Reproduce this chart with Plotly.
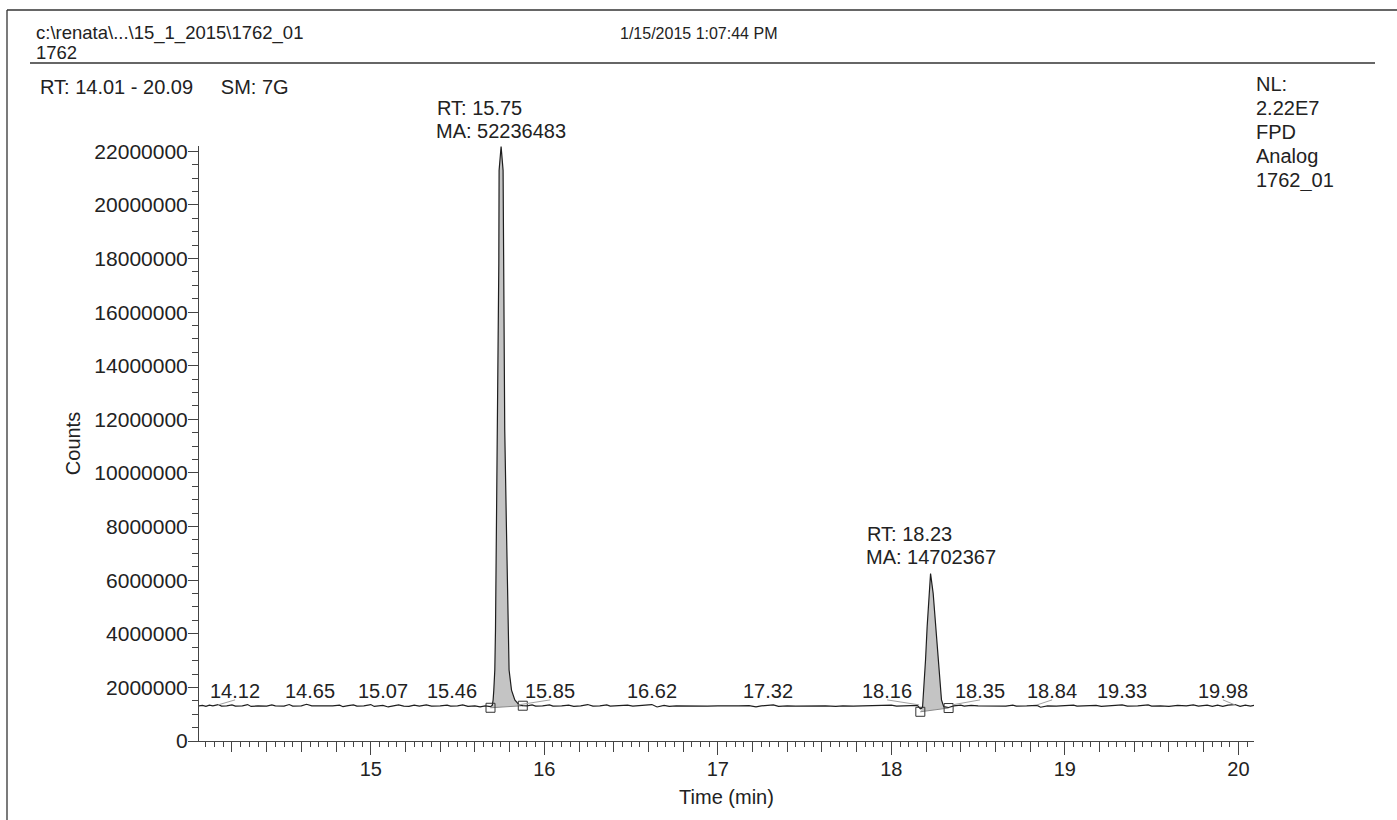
import plotly.graph_objects as go

# ---------------- data ----------------
time_min = [
    14.01, 14.03, 14.05, 14.07, 14.09, 14.12, 14.14, 14.17, 14.20, 14.22,
    14.26, 14.29, 14.31, 14.35, 14.40, 14.43, 14.45, 14.50, 14.53, 14.55,
    14.60, 14.63, 14.66, 14.72, 14.78, 14.82, 14.84, 14.87, 14.90, 14.92,
    14.96, 15.00, 15.02, 15.07, 15.10, 15.13, 15.16, 15.19, 15.22, 15.25,
    15.28, 15.32, 15.35, 15.40, 15.44, 15.46, 15.50, 15.53, 15.56, 15.60,
    15.63, 15.66, 15.690,
    15.700, 15.705, 15.709, 15.7147, 15.7187, 15.7245, 15.730, 15.7337, 15.7378, 15.7395,
    15.751, 15.7625, 15.765, 15.769, 15.772, 15.782, 15.7914, 15.797, 15.811, 15.830,
    15.853, 15.875,
    15.90, 15.93, 15.95, 15.99, 16.03, 16.05, 16.10, 16.14, 16.17, 16.21,
    16.25, 16.28, 16.32, 16.36, 16.38, 16.43, 16.48, 16.51, 16.55, 16.60,
    16.62, 16.65, 16.69, 16.72, 16.76, 16.82, 16.88, 16.94, 17.00, 17.06,
    17.12, 17.18, 17.22, 17.25, 17.30, 17.32, 17.35, 17.40, 17.45, 17.50,
    17.56, 17.62, 17.68, 17.72, 17.78, 17.84, 17.90, 17.96, 18.00, 18.03,
    18.08, 18.12, 18.15, 18.167,
    18.175, 18.180, 18.183, 18.189, 18.197, 18.2063, 18.2161, 18.226, 18.241, 18.2565,
    18.270, 18.2836, 18.289, 18.302, 18.315, 18.33,
    18.36, 18.40, 18.42, 18.46, 18.50, 18.55, 18.60, 18.66, 18.70, 18.72,
    18.78, 18.84, 18.86, 18.90, 18.95, 19.00, 19.05, 19.07, 19.12, 19.18,
    19.21, 19.26, 19.30, 19.33, 19.36, 19.42, 19.48, 19.50, 19.55, 19.60,
    19.65, 19.70, 19.74, 19.77, 19.82, 19.85, 19.88, 19.91, 19.94, 19.98,
    20.01, 20.04, 20.07, 20.09,
]
counts_millions = [
    1.31, 1.33, 1.29, 1.34, 1.31, 1.36, 1.30, 1.31, 1.35, 1.30,
    1.31, 1.36, 1.29, 1.31, 1.30, 1.35, 1.31, 1.30, 1.36, 1.30,
    1.31, 1.37, 1.31, 1.30, 1.31, 1.34, 1.28, 1.32, 1.35, 1.30,
    1.31, 1.36, 1.29, 1.33, 1.27, 1.31, 1.35, 1.30, 1.29, 1.34,
    1.30, 1.35, 1.30, 1.31, 1.34, 1.30, 1.31, 1.35, 1.29, 1.31,
    1.27, 1.31, 1.28,
    1.33, 1.53, 1.90, 2.65, 4.14, 7.87, 11.6, 15.32, 17.82, 21.29,
    22.18, 21.29, 17.82, 15.32, 11.6, 7.87, 4.14, 2.65, 1.90, 1.53,
    1.36, 1.32,
    1.31, 1.35, 1.30, 1.31, 1.35, 1.30, 1.31, 1.34, 1.29, 1.31,
    1.36, 1.30, 1.31, 1.35, 1.30, 1.31, 1.34, 1.30, 1.31, 1.35,
    1.36, 1.27, 1.33, 1.29, 1.31, 1.30, 1.31, 1.30, 1.31, 1.30,
    1.31, 1.32, 1.27, 1.31, 1.34, 1.35, 1.29, 1.31, 1.30, 1.31,
    1.30, 1.31, 1.29, 1.31, 1.30, 1.31, 1.30, 1.31, 1.34, 1.30,
    1.31, 1.30, 1.33, 1.20,
    1.22, 1.28, 1.53, 2.02, 3.02, 4.26, 5.51, 6.25, 5.51, 4.26,
    3.02, 2.02, 1.53, 1.28, 1.27, 1.25,
    1.31, 1.34, 1.30, 1.33, 1.31, 1.30, 1.31, 1.30, 1.34, 1.30,
    1.31, 1.33, 1.26, 1.31, 1.30, 1.31, 1.34, 1.30, 1.31, 1.33,
    1.29, 1.31, 1.34, 1.35, 1.30, 1.31, 1.35, 1.30, 1.31, 1.29,
    1.33, 1.31, 1.35, 1.30, 1.34, 1.29, 1.34, 1.29, 1.34, 1.36,
    1.29, 1.34, 1.30, 1.33,
]
counts = [c * 1e6 for c in counts_millions]

# integrated peaks
peak_rt_labels = ["15.75", "18.23"]
peak_areas = ["52236483", "14702367"]
peak_start_time = [15.69, 18.167]
peak_start_count = [1.24e6, 1.09e6]
peak_end_time = [15.876, 18.33]
peak_end_count = [1.316e6, 1.23e6]

# small labelled baseline maxima
noise_rt = [14.12, 14.65, 15.07, 15.46, 15.85, 16.62, 17.32, 18.16, 18.35, 18.84, 19.33, 19.98]
noise_labels = ["14.12", "14.65", "15.07", "15.46", "15.85", "16.62",
                "17.32", "18.16", "18.35", "18.84", "19.33", "19.98"]
baseline_level = 1.31e6

y_ticks = list(range(0, 22000001, 2000000))
x_ticks = [15, 16, 17, 18, 19, 20]

# ---------------- layout geometry / style ----------------
W, H = 1397, 820
ML, MR, MT, MB = 199, 143, 146, 79
PW, PH = W - ML - MR, H - MT - MB
FONT = "Liberation Sans, Arial, sans-serif"
TXT = "#222222"
label_dx = [17, 0, 0, 1, 32, 0, -5, -32, 28, 15, 0, -12]   # pixel offsets of labels


def paper_x(px):
    return (px - ML) / PW


def paper_y(py):
    return (H - MB - py) / PH


fig = go.Figure()

# filled integrated areas
for s, sc, e, ec in zip(peak_start_time, peak_start_count, peak_end_time, peak_end_count):
    xs = [s] + [t for t in time_min if s < t < e] + [e]
    ys = [sc] + [c for t, c in zip(time_min, counts) if s < t < e] + [ec]
    fig.add_trace(go.Scatter(x=xs, y=ys, mode="lines", fill="toself",
                             fillcolor="#c4c4c4", line=dict(width=0),
                             hoverinfo="skip", showlegend=False))
    fig.add_trace(go.Scatter(x=[s, e], y=[sc, ec], mode="lines",
                             line=dict(color="#8a8a8a", width=1),
                             hoverinfo="skip", showlegend=False))

# chromatogram trace
fig.add_trace(go.Scatter(x=time_min, y=counts, mode="lines",
                         line=dict(color="#1e1e1e", width=1.2),
                         showlegend=False))

# peak boundary markers
fig.add_trace(go.Scatter(x=peak_start_time + peak_end_time,
                         y=peak_start_count + peak_end_count,
                         mode="markers",
                         marker=dict(symbol="square-open", size=9,
                                     color="#333333", line=dict(width=1)),
                         showlegend=False))

# empty trace to carry the secondary tick axis
fig.add_trace(go.Scatter(x=[], y=[], xaxis="x2", showlegend=False))

annotations = []
shapes = []

# peak labels
for rt, area, s, e in zip(peak_rt_labels, peak_areas, peak_start_time, peak_end_time):
    seg = [(c, t) for t, c in zip(time_min, counts) if s <= t <= e]
    apex_c, apex_t = max(seg)
    annotations.append(dict(x=apex_t, y=apex_c, xref="x", yref="y",
                            text="MA: " + area, showarrow=False, height=22,
                            xanchor="center", yanchor="bottom", yshift=3,
                            font=dict(size=20, color=TXT, family=FONT)))
    annotations.append(dict(x=apex_t, y=apex_c, xref="x", yref="y",
                            text="RT: " + rt, showarrow=False, height=22,
                            xanchor="left", xshift=-66, yanchor="bottom", yshift=26,
                            font=dict(size=20, color=TXT, family=FONT)))

# baseline labels with leader lines
for t, lab, dx in zip(noise_rt, noise_labels, label_dx):
    annotations.append(dict(x=t, y=baseline_level, xref="x", yref="y",
                            text=lab, showarrow=False, xanchor="center",
                            yanchor="middle", xshift=dx, yshift=15,
                            font=dict(size=20, color=TXT, family=FONT)))
    if abs(dx) >= 10:
        shapes.append(dict(type="line", xref="x", yref="y",
                           xsizemode="pixel", ysizemode="pixel",
                           xanchor=t, yanchor=baseline_level,
                           x0=0, y0=1, x1=dx, y1=6,
                           line=dict(color="#a0a0a0", width=1)))

# header texts
header = [
    ("c:\\renata\\...\\15_1_2015\\1762_01", 34, 33, 18.5),
    ("1762", 34, 53, 18.5),
    ("1/15/2015 1:07:44 PM", 618, 33, 16),
    ("RT: 14.01 - 20.09\u00a0\u00a0\u00a0\u00a0\u00a0SM: 7G", 38, 87, 20),
]
for text, x, y, size in header:
    annotations.append(dict(x=paper_x(x), y=paper_y(y), xref="paper", yref="paper",
                            text=text, showarrow=False, xanchor="left", yanchor="middle",
                            font=dict(size=size, color=TXT, family=FONT)))

right_block = ["NL:", "2.22E7", "FPD", "Analog", "1762_01"]
for i, text in enumerate(right_block):
    annotations.append(dict(x=paper_x(1254), y=paper_y(84 + 24 * i), xref="paper", yref="paper",
                            text=text, showarrow=False, xanchor="left", yanchor="middle",
                            height=22,
                            font=dict(size=20, color=TXT, family=FONT)))

# frame and header rule
shapes += [
    dict(type="line", xref="paper", yref="paper", x0=paper_x(7), x1=paper_x(1400),
         y0=paper_y(10), y1=paper_y(10), line=dict(color="#333333", width=1.3)),
    dict(type="line", xref="paper", yref="paper", x0=paper_x(7), x1=paper_x(7),
         y0=paper_y(10), y1=paper_y(825), line=dict(color="#333333", width=1.3)),
    dict(type="line", xref="paper", yref="paper", x0=paper_x(30), x1=paper_x(1375),
         y0=paper_y(63), y1=paper_y(63), line=dict(color="#333333", width=1.3)),
]

axis_font = dict(size=20, color=TXT, family=FONT)
fig.update_layout(
    width=W, height=H,
    margin=dict(l=ML, r=MR, t=MT, b=MB, autoexpand=False),
    paper_bgcolor="white", plot_bgcolor="white",
    font=dict(family=FONT, color=TXT),
    showlegend=False,
    annotations=annotations,
    shapes=shapes,
    xaxis=dict(range=[14.01, 20.09], tickvals=x_ticks, ticks="outside", ticklen=13,
               tickcolor="#444444", tickfont=axis_font, showline=True,
               ticklabelstandoff=-3,
               linecolor="#444444", linewidth=1, showgrid=False, zeroline=False,
               minor=dict(dtick=0.05, tick0=14.0, ticks="outside", ticklen=5,
                          tickcolor="#444444", showgrid=False),
               title=dict(text="Time (min)", font=axis_font, standoff=10)),
    xaxis2=dict(range=[14.01, 20.09], overlaying="x", side="bottom", anchor="y",
                dtick=0.2, tick0=14.0, ticks="outside", ticklen=10,
                tickcolor="#444444", showticklabels=False, showline=False,
                showgrid=False, zeroline=False),
    yaxis=dict(range=[0, 2.22e7], tickvals=y_ticks, tickformat="d", ticks="outside",
               ticklen=10, tickcolor="#444444", tickfont=dict(size=21, color=TXT, family=FONT),
               ticklabelstandoff=-4, showline=True,
               linecolor="#444444", linewidth=1, showgrid=False, zeroline=False,
               minor=dict(dtick=5e5, tick0=0, ticks="outside", ticklen=6,
                          tickcolor="#444444", showgrid=False),
               title=dict(text="Counts", font=axis_font, standoff=8)),
)

fig.write_html("out.html",
               config={"displayModeBar": False},
               post_script="document.body.style.margin='0';document.body.style.overflow='hidden';")
